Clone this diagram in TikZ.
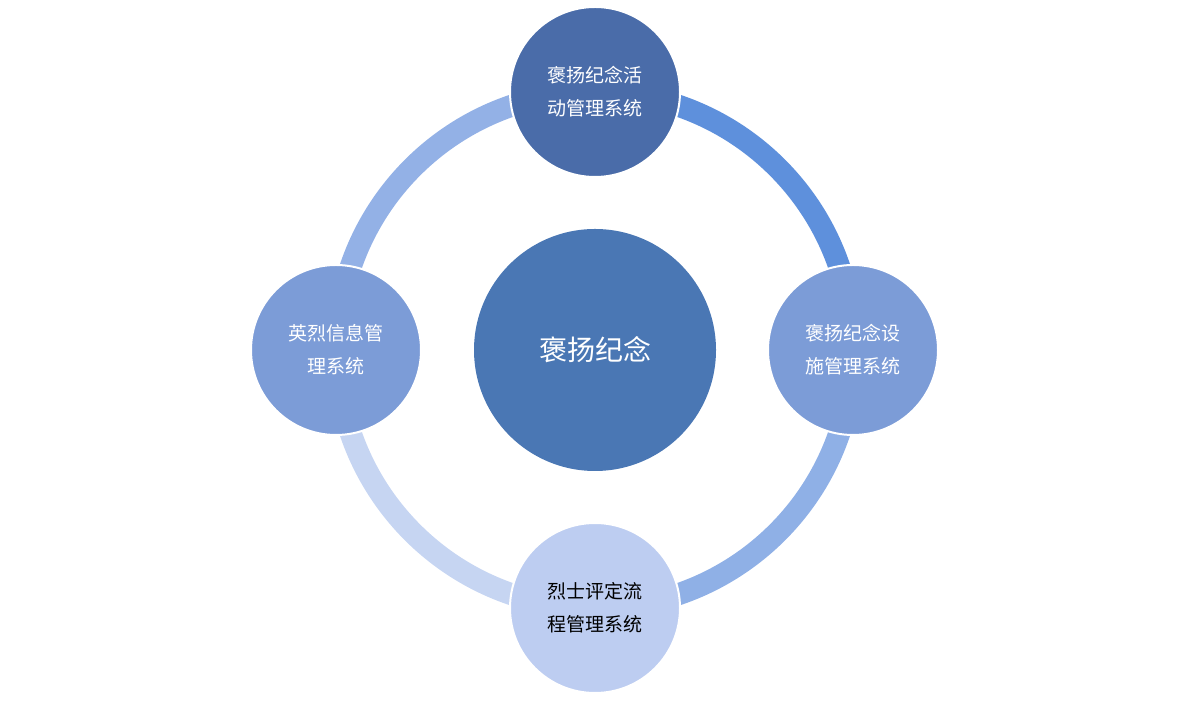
\documentclass[tikz,border=0pt]{standalone}
\usepackage{fontspec}
\newfontfamily\cjk{Noto Sans CJK SC}
\definecolor{ctop}{HTML}{4A6CA9}
\definecolor{ccen}{HTML}{4A77B4}
\definecolor{cside}{HTML}{7C9CD7}
\definecolor{cbot}{HTML}{BDCDF1}
\definecolor{atr}{HTML}{5E90DC}
\definecolor{abr}{HTML}{8FB0E6}
\definecolor{abl}{HTML}{C6D5F2}
\definecolor{atl}{HTML}{93B1E6}
\tikzset{sat/.style={circle,draw=white,line width=2pt,minimum size=170pt,inner sep=0pt,align=center,font=\cjk\fontsize{19pt}{33pt}\selectfont,text=white},
ring/.style={line width=22pt}}
\begin{document}
\begin{tikzpicture}[x=1pt,y=1pt]
\useasboundingbox (0,0) rectangle (1183,711);
\coordinate (c) at (595,361);
\draw[ring,atr] ([shift={(90:258)}]c) arc (90:0:258);
\draw[ring,abr] ([shift={(0:258)}]c) arc (0:-90:258);
\draw[ring,abl] ([shift={(-90:258)}]c) arc (-90:-180:258);
\draw[ring,atl] ([shift={(180:258)}]c) arc (180:90:258);
\node[circle,fill=ccen,minimum size=242pt,inner sep=0pt,text=white,font=\cjk\fontsize{28pt}{34pt}\selectfont] (center) at (c) {褒扬纪念};
\node[sat,fill=ctop] (top) at (595,619) {褒扬纪念活\\动管理系统};
\node[sat,fill=cside] (right) at (853,361) {褒扬纪念设\\施管理系统};
\node[sat,fill=cbot,text=black] (bottom) at (595,103) {烈士评定流\\程管理系统};
\node[sat,fill=cside] (left) at (336,361) {英烈信息管\\理系统};
\end{tikzpicture}
\end{document}
